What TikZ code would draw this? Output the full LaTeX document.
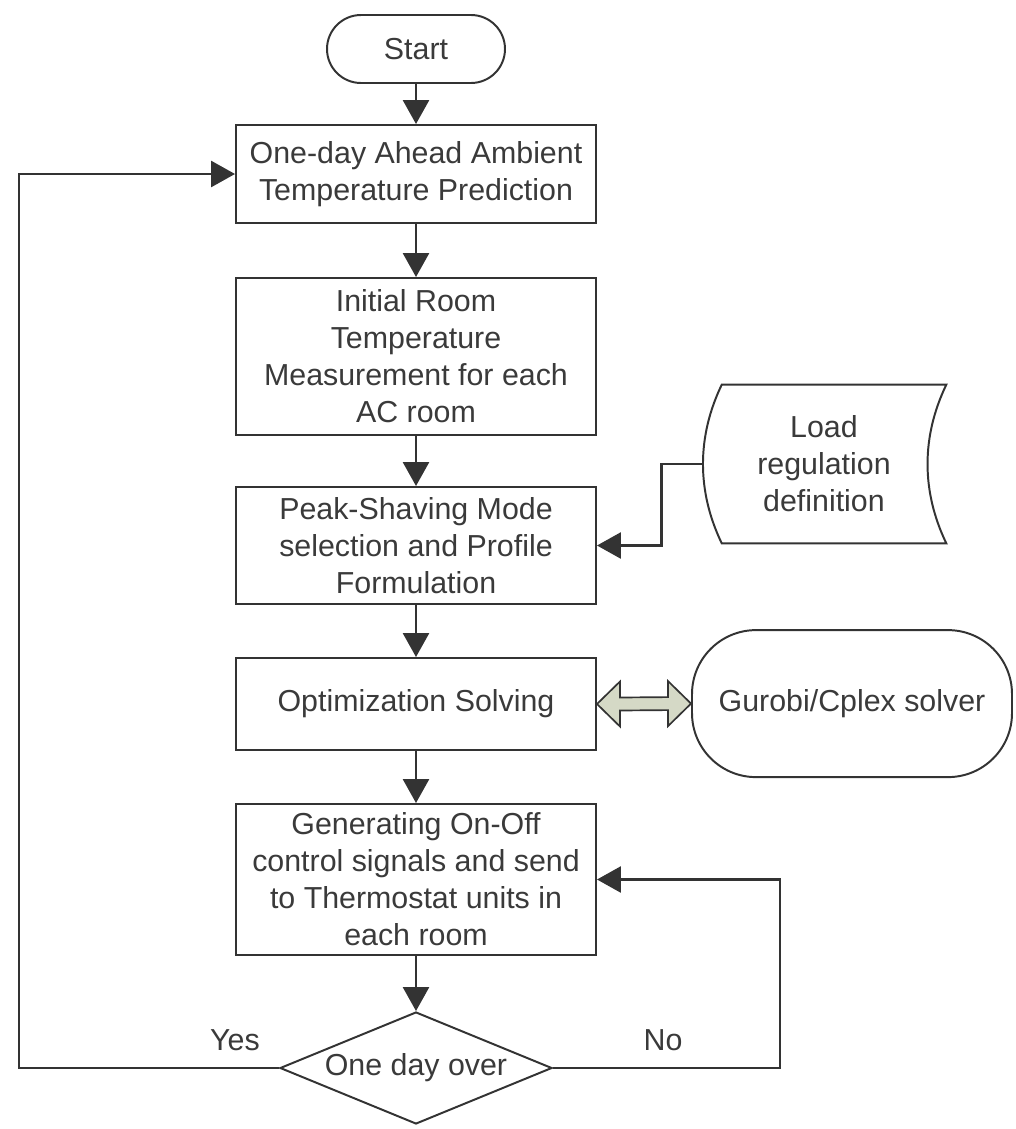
\documentclass[tikz,border=0pt]{standalone}
\usepackage{fontspec}
\setmainfont{Liberation Sans}
\usepackage{tikz}
\usetikzlibrary{arrows.meta, positioning, shapes.geometric, calc}
\definecolor{linegray}{HTML}{333333}
\definecolor{textgray}{HTML}{3A3A3A}
\definecolor{linkfill}{HTML}{D5D9C6}
\tikzset{%
	flow box/.style={
		rectangle,
		draw=linegray,
		line width=1.4pt,
		minimum width=9cm,
		align=center,
		inner sep=0pt,
		text=textgray
	},
	flow arrow/.style={
		draw=linegray,
		line width=2pt,
		-{Triangle[length=0.6cm,width=0.65cm]}
	},
}

\begin{document}
\begin{tikzpicture}[font=\fontsize{21.6}{26.3}\selectfont]
			\useasboundingbox (0,0) rectangle (25.4,-28.225);

			% Draw the start terminal
			\node[flow box, rounded corners=0.85cm, minimum width=4.45cm, minimum height=1.7cm] (start) at (10.4,-1.225) {Start};

			% Draw the main column of steps
			\node[flow box, minimum height=2.45cm] (predict) at (10.4,-4.35) {One-day Ahead Ambient\\Temperature Prediction};
			\node[flow box, minimum height=3.925cm] (measure) at (10.4,-8.9125) {Initial Room\\Temperature\\Measurement for each\\AC room};
			\node[flow box, minimum height=2.925cm] (shave) at (10.4,-13.6375) {Peak-Shaving Mode\\selection and Profile\\Formulation};
			\node[flow box, minimum height=2.3cm] (opt) at (10.4,-17.6) {Optimization Solving};
			\node[flow box, minimum height=3.775cm] (generate) at (10.4,-21.9875) {Generating On-Off\\control signals and send\\to Thermostat units in\\each room};

			% Draw the decision
			\node[flow box, diamond, aspect=2.43, minimum width=6.8cm, minimum height=2.8cm] (check) at (10.4,-26.7) {One day over};
			\node[text=textgray] (yes) at (5.875,-26.0) {Yes};
			\node[text=textgray] (no) at (16.575,-26.0) {No};

			% Draw the stored data shape
			\node[text=textgray, align=center, minimum width=6.1cm, minimum height=3.95cm, inner sep=0pt] (load) at (20.6,-11.6) {Load\\regulation\\definition};
			\draw[linegray, line width=1.4pt] ([xshift=0.5cm]load.north west) -- (load.north east)
				.. controls +(-0.625,-1.3) and +(-0.625,1.3) .. (load.south east)
				-- ([xshift=0.5cm]load.south west)
				.. controls +(-0.625,1.3) and +(-0.625,-1.3) .. ([xshift=0.5cm]load.north west) -- cycle;

			% Draw the solver
			\node[flow box, rounded corners=1.6cm, minimum width=8cm, minimum height=3.675cm] (solver) at (21.3,-17.59) {Gurobi/Cplex solver};

			% Draw the double arrow
			\draw[draw=linegray, fill=linkfill, line width=1.2pt, line join=miter] (opt.east) -- ++(0.575,0.5625) -- ++(0,-0.4)
				-- ([xshift=-0.575cm,yshift=0.1625cm]solver.west) -- ++(0,0.4) -- (solver.west)
				-- ++(-0.575,-0.5625) -- ++(0,0.4)
				-- ([xshift=0.575cm,yshift=-0.1625cm]opt.east) -- ++(0,-0.4) -- cycle;

			% Draw the arrows
			\draw[flow arrow] (start) -- (predict);
			\draw[flow arrow] (predict) -- (measure);
			\draw[flow arrow] (measure) -- (shave);
			\draw[flow arrow] (shave) -- (opt);
			\draw[flow arrow] (opt) -- (generate);
			\draw[flow arrow] (generate) -- (check);
			\draw[flow arrow] (load.west) -- ++(-1,0) |- (shave.east);
			\draw[flow arrow] (check.west) -- ++(-6.5,0) |- (predict.west);
			\draw[flow arrow] (check.east) -- ++(5.675,0) |- (generate.east);
		\end{tikzpicture}
\end{document}
